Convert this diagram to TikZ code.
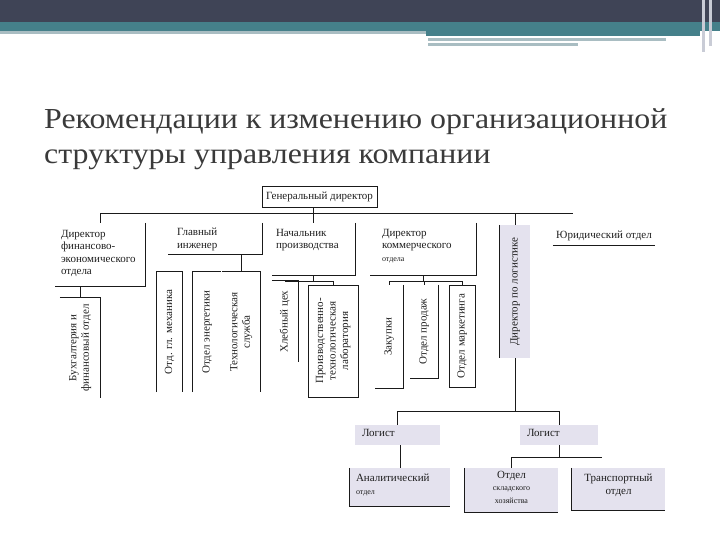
\documentclass[tikz,border=0pt]{standalone}
\usepackage{fontspec}
\setmainfont{Liberation Serif}
\newfontfamily\titlefont[FakeStretch=1.1]{Liberation Serif}
\usepackage{graphicx}
\definecolor{headcol}{HTML}{3F4456}
\definecolor{tealcol}{HTML}{45808A}
\definecolor{stripcol}{HTML}{A9BDC2}
\definecolor{edgecol}{HTML}{C9CCD6}
\definecolor{titlecol}{HTML}{3A3A3A}
\definecolor{txtcol}{HTML}{1E1E1E}
\definecolor{lncol}{HTML}{1A1A1A}
\definecolor{lavcol}{HTML}{E4E2EE}
% текст в блоке: сверху и слева / по центру
\newcommand{\toptxt}[3]{\parbox[c][#2][t]{#1}{\raggedright #3}}
\newcommand{\midtxt}[3]{\parbox[c][#2][t]{#1}{\centering #3}}
\newcommand{\smalltxt}{\fontsize{8}{12.5}\selectfont}
% вертикальная подпись
\newcommand{\vtxt}[1]{\rotatebox{90}{\begin{tabular}{@{}c@{}}#1\end{tabular}}}
\begin{document}
\begin{tikzpicture}[x=1pt,y=-1pt,
    unit/.style={inner sep=0pt, font=\fontsize{11}{12.5}\selectfont, text=txtcol},
    framed/.style={unit, draw=lncol, line width=0.8pt},
    shaded/.style={unit, fill=lavcol},
    link/.style={draw=lncol, line width=0.8pt}]
    \useasboundingbox (0,0) rectangle (720,540);

    % Шапка слайда
    \fill[headcol] (0,0) rectangle (720,22);
    \fill[tealcol] (0,22) rectangle (720,31);
    \fill[stripcol] (0,31) rectangle (426,34);
    \fill[tealcol] (426,31) rectangle (700,36);
    \fill[stripcol] (428,38) rectangle (666,41);
    \fill[stripcol] (428,43) rectangle (578,46);
    \fill[edgecol] (702,0) rectangle (705,52);
    \fill[edgecol] (709,0) rectangle (712,46);

    % Заголовок
    \node[anchor=north west, inner sep=0pt, align=left, text=titlecol,
          font=\titlefont\fontsize{29}{35}\selectfont] (title) at (44,108)
        {Рекомендации к изменению организационной\\структуры управления компании};

    % Первый уровень
    \node[framed, minimum width=115pt, minimum height=21pt] (gd) at (319.5,196.5) {Генеральный директор};
    \node[unit, minimum width=90pt, minimum height=63pt] (dfin) at (100,254.5)
        {\toptxt{78pt}{49pt}{Директор\\финансово-\\экономического\\отдела}};
    \node[unit, minimum width=94pt, minimum height=31pt] (gi) at (215,238.5)
        {\toptxt{76pt}{21pt}{Главный\\инженер}};
    \node[unit, minimum width=83pt, minimum height=52pt] (np) at (313.5,249)
        {\toptxt{75pt}{40pt}{Начальник\\производства}};
    \node[unit, minimum width=106pt, minimum height=52pt] (dkom) at (423,249)
        {\toptxt{82pt}{40pt}{Директор\\коммерческого\\{\smalltxt отдела}}};
    \node[shaded, minimum width=30pt, minimum height=133pt] (dlog) at (515,291.5)
        {\vtxt{Директор по логистике}};
    \node[unit, minimum width=102pt, minimum height=19pt] (jur) at (604,235.5) {Юридический отдел};

    % Второй уровень
    \node[unit, minimum width=40pt, minimum height=100pt] (buh) at (80,348)
        {\vtxt{Бухгалтерия и\\финансовый отдел}};
    \node[unit, minimum width=25pt, minimum height=120pt] (meh) at (169.5,332)
        {\vtxt{Отд. гл. механика}};
    \node[unit, minimum width=28pt, minimum height=120pt] (en) at (207,332)
        {\vtxt{Отдел энергетики}};
    \node[unit, minimum width=38pt, minimum height=120pt] (teh) at (241,332)
        {\vtxt{Технологическая\\служба}};
    \node[unit, minimum width=26pt, minimum height=81pt] (hleb) at (285,321.5)
        {\vtxt{Хлебный цех}};
    \node[framed, minimum width=50pt, minimum height=112pt] (lab) at (333,341)
        {\vtxt{Производственно-\\технологическая\\лаборатория}};
    \node[unit, minimum width=28pt, minimum height=103pt] (zak) at (389,336.5)
        {\vtxt{Закупки}};
    \node[unit, minimum width=28pt, minimum height=93pt] (prod) at (424,331.5)
        {\vtxt{Отдел продаж}};
    \node[framed, minimum width=26pt, minimum height=102pt] (mark) at (462,336)
        {\vtxt{Отдел маркетинга}};

    % Логистика
    \node[shaded, minimum width=85pt, minimum height=20pt] (log1) at (397.5,435)
        {\toptxt{71pt}{11pt}{Логист}};
    \node[shaded, minimum width=78pt, minimum height=20pt] (log2) at (559,435)
        {\toptxt{64pt}{11pt}{Логист}};
    \node[shaded, minimum width=100pt, minimum height=38pt] (anal) at (400,487)
        {\toptxt{88pt}{26pt}{Аналитический\\{\smalltxt отдел}}};
    \node[shaded, minimum width=93pt, minimum height=44pt] (sklad) at (511.5,490)
        {\midtxt{89pt}{38pt}{Отдел\\{\smalltxt складского\\хозяйства}}};
    \node[shaded, minimum width=93pt, minimum height=42pt] (trans) at (618.5,489)
        {\midtxt{89pt}{30pt}{Транспортный\\отдел}};
    \coordinate (busend) at (573,213);
    \coordinate (lgend) at (602,457);

    % Рамки блоков
    \foreach \n in {dfin,gi,np,dkom,zak,prod}
        \draw[link] (\n.north east) |- (\n.south west);
    \foreach \n in {buh,hleb,teh}
        \draw[link] (\n.north west) -| (\n.south east);
    \foreach \n in {anal,sklad,trans}
        \draw[link] (\n.north west) |- (\n.south east);
    \draw[link] (meh.south west) |- (meh.north east) -- (meh.south east);
    \draw[link] (en.south west) |- (en.north east);
    \draw[link] (jur.south west) -- (jur.south east);
    \draw[link] (dlog.north west) -- (dlog.south west);

    % Связи
    \draw[link] (gd.south -| np.north) -- (np.north);
    \draw[link] (dfin.north) |- (busend);
    \draw[link] (dlog.north) -- (dlog.north |- busend);
    \draw[link] (buh.north) -- (buh.north |- dfin.south);
    \draw[link] (gi.south -| teh.north) -- (teh.north);
    \draw[link] (np.south) -- ++(0,6) coordinate (npb);
    \draw[link] (hleb.north) |- (npb -| lab.north) -- (lab.north);
    \draw[link] (dkom.south) -- ++(0,6) coordinate (dkb);
    \draw[link] (zak.north) |- (dkb) -| (mark.north);
    \draw[link] (prod.north |- dkb) -- (prod.north);
    \draw[link] (dlog.south) -- ++(0,53) coordinate (lgb);
    \draw[link] (log1.north) |- (lgb) -| (log2.north);
    \draw[link] (anal.north |- log1.south) -- (anal.north);
    \draw[link] (log2.south) -- (log2.south |- lgend);
    \draw[link] (sklad.north) |- (lgend);
\end{tikzpicture}
\end{document}
